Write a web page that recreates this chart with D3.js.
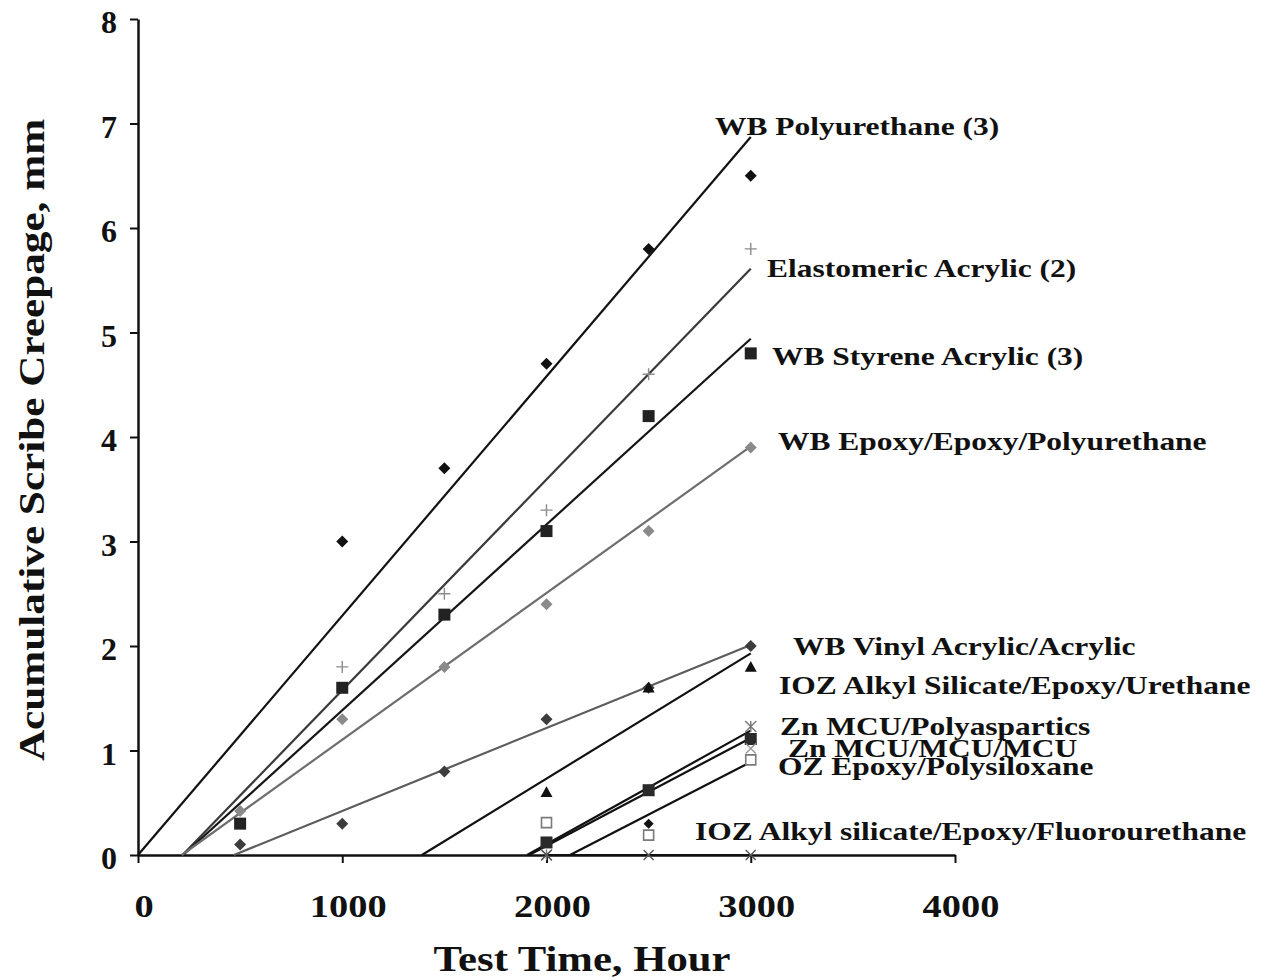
<!DOCTYPE html>
<html>
<head>
<meta charset="utf-8">
<script src="https://cdn.jsdelivr.net/npm/d3@7"></script>
<style>
  body { margin: 0; background: #fff; }
  text { font-family: "Liberation Serif", "Times New Roman", serif; font-weight: bold; fill: #111; }
</style>
</head>
<body>
<div id="chart"></div>
<script>
// test hours where readings were taken
const hours = [500, 1000, 1500, 2000, 2500, 3000];

// coating systems, in label order
const seriesNames = [
  "WB Polyurethane (3)",
  "Elastomeric Acrylic (2)",
  "WB Styrene Acrylic (3)",
  "WB Epoxy/Epoxy/Polyurethane",
  "WB Vinyl Acrylic/Acrylic",
  "IOZ Alkyl Silicate/Epoxy/Urethane",
  "Zn MCU/Polyaspartics",
  "Zn MCU/MCU/MCU",
  "OZ Epoxy/Polysiloxane",
  "IOZ Alkyl silicate/Epoxy/Fluorourethane"
];

// scribe creepage (mm) at each hour, null = no point
const wbPolyurethane    = [null, 3.0, 3.7, 4.7, 5.8, 6.5];
const elastomericAcryl  = [null, 1.8, 2.5, 3.3, 4.6, 5.8];
const wbStyreneAcrylic  = [0.3, 1.6, 2.3, 3.1, 4.2, 4.8];
const wbEpoxyPu         = [0.42, 1.3, 1.8, 2.4, 3.1, 3.9];
const wbVinylAcrylic    = [0.1, 0.3, 0.8, 1.3, 1.6, 2.0];
const iozUrethane       = [null, null, null, 0.6, 1.6, 1.8];
const znPolyaspartics   = [null, null, null, 0.0, 0.62, 1.23];
const znMcu             = [null, null, null, 0.12, 0.62, 1.11];
const ozPolysiloxane    = [null, null, null, 0.31, 0.19, 0.91];
const iozFluoro         = [null, null, null, 0.0, 0.0, 0.0];

// a couple of unlabelled points in the lower cluster
const strayHours  = [2500, 3000];
const strayValues = [0.30, 1.02];

// linear trend lines as drawn: start hour (at 0 mm) and value at 3000 h
const trendStartHour = [0, 218, 221, 214, 470, 1390, 1905, 1915, 2115, 2000];
const trendEndValue  = [6.87, 5.61, 4.94, 3.91, 2.01, 1.93, 1.19, 1.12, 0.89, 0];
const trendEndHour = 3000;

const xTicks = [0, 1000, 2000, 3000, 4000];
const yTicks = [0, 1, 2, 3, 4, 5, 6, 7, 8];

const allValues = [wbPolyurethane, elastomericAcryl, wbStyreneAcrylic, wbEpoxyPu, wbVinylAcrylic,
  iozUrethane, znPolyaspartics, znMcu, ozPolysiloxane, iozFluoro];

// styling per series
const markerShape = ["diamond", "plus", "square", "diamond", "diamond", "triangle", "asterisk", "square", "openSquare", "times"];
const markerColor = ["#111", "#8c8c8c", "#222", "#8a8a8a", "#3c3c3c", "#111", "#777", "#2a2a2a", "#7a7a7a", "#555"];
const lineColor   = ["#111", "#3a3a3a", "#151515", "#6e6e6e", "#5c5c5c", "#111", "#111", "#111", "#111", "#111"];
// label layout (pixels)
const labelX = [715, 767, 772, 778, 793, 779, 780, 788, 778, 695];
const labelY = [135, 277, 365, 450, 655, 694, 735, 757, 775, 840];

const W = 1266, H = 980;
const svg = d3.select("#chart").append("svg")
  .attr("width", W)
  .attr("height", H);

const x = d3.scaleLinear().domain([0, 4000]).range([138, 955]);
const y = d3.scaleLinear().domain([0, 8]).range([855, 19]);

const stretch = 1.2;
function widen(sel, k) {
  sel.each(function() {
    const w = this.getComputedTextLength();
    d3.select(this).attr("textLength", w * k).attr("lengthAdjust", "spacingAndGlyphs");
  });
}

// axes
const xAxis = svg.append("g")
  .attr("transform", "translate(0," + y(0) + ")")
  .call(d3.axisBottom(x).tickValues(xTicks).tickSize(8).tickSizeOuter(0).tickFormat(""));
xAxis.select(".domain").attr("stroke", "#111").attr("stroke-width", 2.5);
xAxis.selectAll(".tick line").attr("stroke", "#111").attr("stroke-width", 2);

const yAxis = svg.append("g")
  .attr("transform", "translate(" + x(0) + ",0)")
  .call(d3.axisLeft(y).tickValues(yTicks).tickSize(8).tickSizeOuter(0).tickFormat(""));
yAxis.select(".domain").attr("stroke", "#111").attr("stroke-width", 2.5);
yAxis.selectAll(".tick line").attr("stroke", "#111").attr("stroke-width", 2);

// tick labels
svg.append("g").selectAll("text")
  .data(xTicks)
  .enter().append("text")
  .attr("x", d => x(d) + 6)
  .attr("y", 917)
  .attr("text-anchor", "middle")
  .style("font-size", "32px")
  .text(d => d)
  .call(widen, stretch);

svg.append("g").selectAll("text")
  .data(yTicks)
  .enter().append("text")
  .attr("x", 117)
  .attr("y", d => y(d) + 14)
  .attr("text-anchor", "end")
  .style("font-size", "32px")
  .text(d => d);

// axis titles
svg.append("text")
  .attr("x", 582)
  .attr("y", 971)
  .attr("text-anchor", "middle")
  .style("font-size", "35px")
  .text("Test Time, Hour")
  .call(widen, 1.22);

svg.append("text")
  .attr("transform", "translate(44,440) rotate(-90)")
  .attr("text-anchor", "middle")
  .style("font-size", "36px")
  .text("Acumulative Scribe Creepage, mm")
  .call(widen, stretch);

// trend lines
const trends = seriesNames.map((name, i) => ({
  i: i,
  pts: [[trendStartHour[i], 0], [trendEndHour, trendEndValue[i]]]
}));
svg.append("g").selectAll("path")
  .data(trends)
  .enter().append("path")
  .attr("d", d => d3.line().x(p => x(p[0])).y(p => y(p[1]))(d.pts))
  .attr("fill", "none")
  .attr("stroke", d => lineColor[d.i])
  .attr("stroke-width", 2.2);

// marker shapes
function markerPath(shape, s) {
  const h = s / 2;
  switch (shape) {
    case "diamond": return `M0,${-h}L${h},0L0,${h}L${-h},0Z`;
    case "square":
    case "openSquare": return `M${-h},${-h}H${h}V${h}H${-h}Z`;
    case "triangle": return `M0,${-h}L${h},${h * 0.8}L${-h},${h * 0.8}Z`;
    case "plus": return `M${-h},0H${h}M0,${-h}V${h}`;
    case "times": return `M${-h},${-h}L${h},${h}M${-h},${h}L${h},${-h}`;
    case "asterisk": return `M${-h},${-h}L${h},${h}M${-h},${h}L${h},${-h}M0,${-h}V${h}`;
  }
}
const markerSize = { diamond: 12, square: 12, openSquare: 10, triangle: 12, plus: 12, times: 10, asterisk: 11 };

const points = [];
allValues.forEach((vals, i) => {
  vals.forEach((v, j) => {
    if (v !== null) points.push({ i: i, h: hours[j], v: v, shape: markerShape[i] });
  });
});
strayHours.forEach((h, j) => {
  points.push({ i: -1, h: h, v: strayValues[j], shape: j === 0 ? "diamond" : "times" });
});

const strokeShapes = ["plus", "times", "asterisk", "openSquare"];
svg.append("g").selectAll("path")
  .data(points)
  .enter().append("path")
  .attr("transform", d => "translate(" + x(d.h) + "," + y(d.v) + ")")
  .attr("d", d => markerPath(d.shape, d.i === -1 && d.shape === "diamond" ? 10 : markerSize[d.shape]))
  .attr("fill", d => {
    if (strokeShapes.includes(d.shape)) return d.shape === "openSquare" ? "#fff" : "none";
    return d.i === -1 ? "#111" : markerColor[d.i];
  })
  .attr("stroke", d => {
    const c = d.i === -1 ? "#999" : markerColor[d.i];
    return strokeShapes.includes(d.shape) ? c : "none";
  })
  .attr("stroke-width", d => d.shape === "openSquare" ? 1.6 : 1.4);

// series labels
svg.append("g").selectAll("text")
  .data(seriesNames)
  .enter().append("text")
  .attr("x", (d, i) => labelX[i])
  .attr("y", (d, i) => labelY[i])
  .style("font-size", "26px")
  .text(d => d)
  .call(widen, 1.21);
</script>
</body>
</html>
